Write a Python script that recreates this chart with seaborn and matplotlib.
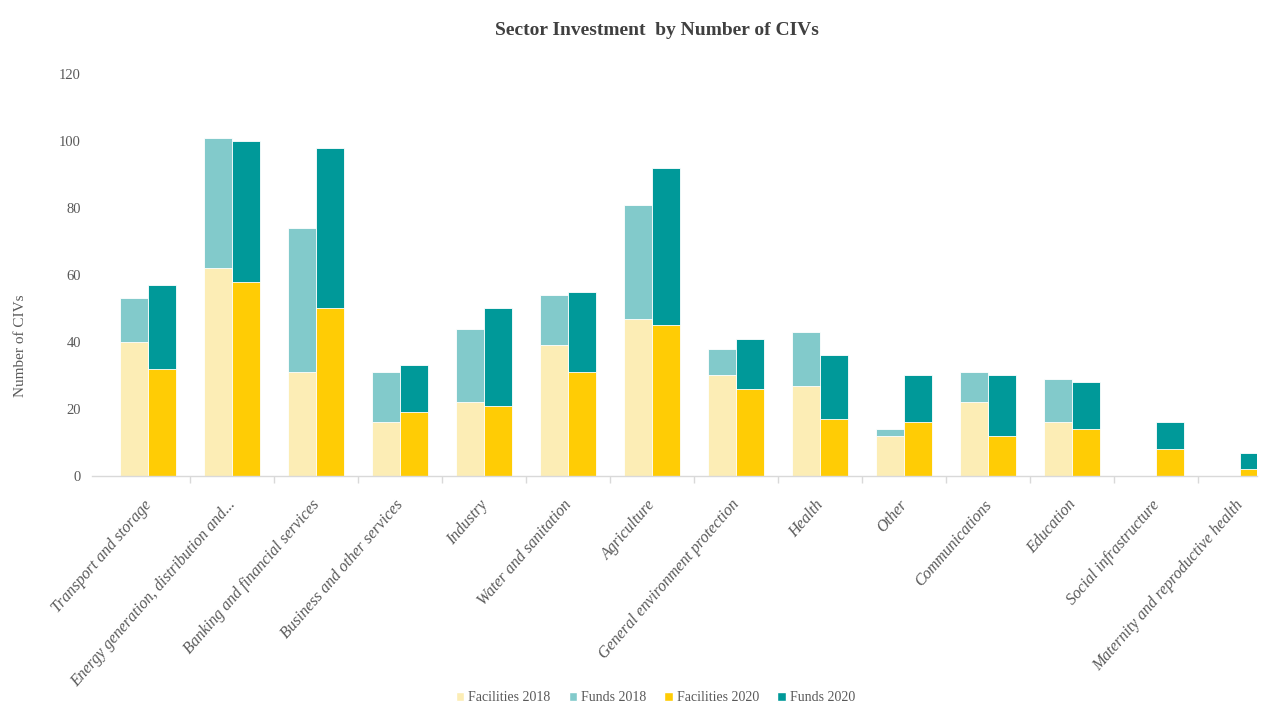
import matplotlib
matplotlib.use("Agg")
import matplotlib.pyplot as plt
import matplotlib.transforms as mtransforms
import seaborn as sns
import pandas as pd
import numpy as np
from matplotlib.patches import Patch

sectors = [
    "Transport and storage",
    "Energy generation, distribution and...",
    "Banking and financial services",
    "Business and other services",
    "Industry",
    "Water and sanitation",
    "Agriculture",
    "General environment protection",
    "Health",
    "Other",
    "Communications",
    "Education",
    "Social infrastructure",
    "Maternity and reproductive health",
]
facilities_2018 = [40, 62, 31, 16, 22, 39, 47, 30, 27, 12, 22, 16, 0, 0]
funds_2018 = [13, 39, 43, 15, 22, 15, 34, 8, 16, 2, 9, 13, 0, 0]
facilities_2020 = [32, 58, 50, 19, 21, 31, 45, 26, 17, 16, 12, 14, 8, 2]
funds_2020 = [25, 42, 48, 14, 29, 24, 47, 15, 19, 14, 18, 14, 8, 5]

years = ["2018", "2020"]
fac_colors = ["#FCEDB5", "#FFCC05"]
fund_colors = ["#82CACB", "#009999"]

rows = []
for i, s in enumerate(sectors):
    rows.append({"Sector": s, "Year": "2018", "Facilities": facilities_2018[i],
                 "Total": facilities_2018[i] + funds_2018[i]})
    rows.append({"Sector": s, "Year": "2020", "Facilities": facilities_2020[i],
                 "Total": facilities_2020[i] + funds_2020[i]})
df = pd.DataFrame(rows)

sns.set_theme(style="white")
serif = ["Liberation Serif", "DejaVu Serif"]
plt.rcParams["font.family"] = serif

fig = plt.figure(figsize=(12.85, 7.06), dpi=100)
ax = fig.add_axes([0.0716, 0.3258, 0.9064, 0.5694])

# total height (facilities + funds) first, facilities drawn on top
common = dict(data=df, x="Sector", hue="Year", hue_order=years, order=sectors,
              width=0.67, gap=0, saturation=1, edgecolor="white",
              linewidth=0.6, legend=False, ax=ax)
sns.barplot(y="Total", palette=fund_colors, **common)
sns.barplot(y="Facilities", palette=fac_colors, **common)

xmin, xmax = -0.667, 13.2
ax.set_xlim(xmin, xmax)
ax.set_ylim(0, 120)
ax.set_yticks(np.arange(0, 121, 20))
ax.tick_params(axis="y", labelsize=10.5, labelcolor="#595959", length=0, pad=8)
ax.set_xlabel("")
ax.set_ylabel("")

for side in ["top", "right", "left"]:
    ax.spines[side].set_visible(False)
ax.spines["bottom"].set_color("#D9D9D9")
ax.spines["bottom"].set_linewidth(1.0)

ax.set_xticks(np.arange(len(sectors)))
ax.set_xticklabels(sectors, rotation=49, ha="right", rotation_mode="anchor",
                   fontsize=11.5, style="italic", color="#595959")
ax.tick_params(axis="x", which="major", length=0, pad=15)
shift = mtransforms.ScaledTranslation(-5 / 100, 0, fig.dpi_scale_trans)
for lab in ax.get_xticklabels():
    lab.set_transform(lab.get_transform() + shift)

# small separators between category groups
ax.set_xticks(np.arange(0.5, len(sectors) - 1, 1.0), minor=True)
ax.tick_params(axis="x", which="minor", bottom=True, length=5,
               color="#D9D9D9", width=1)

fig.text(0.511, 0.957, "Sector Investment  by Number of CIVs", ha="center",
         va="center", fontsize=14, fontweight="bold", color="#404040")
fig.text(0.016, 0.51, "Number of CIVs", rotation=90, ha="center", va="center",
         fontsize=11, color="#595959")

handles = [
    Patch(facecolor=fac_colors[0], label="Facilities 2018"),
    Patch(facecolor=fund_colors[0], label="Funds 2018"),
    Patch(facecolor=fac_colors[1], label="Facilities 2020"),
    Patch(facecolor=fund_colors[1], label="Funds 2020"),
]
leg = fig.legend(handles=handles, loc="center", bbox_to_anchor=(0.51, 0.012),
                 ncol=4, frameon=False, fontsize=10, handlelength=0.6,
                 handleheight=0.6, handletextpad=0.3, columnspacing=1.3)
for t in leg.get_texts():
    t.set_color("#595959")

fig.savefig("out.png", dpi=100)
